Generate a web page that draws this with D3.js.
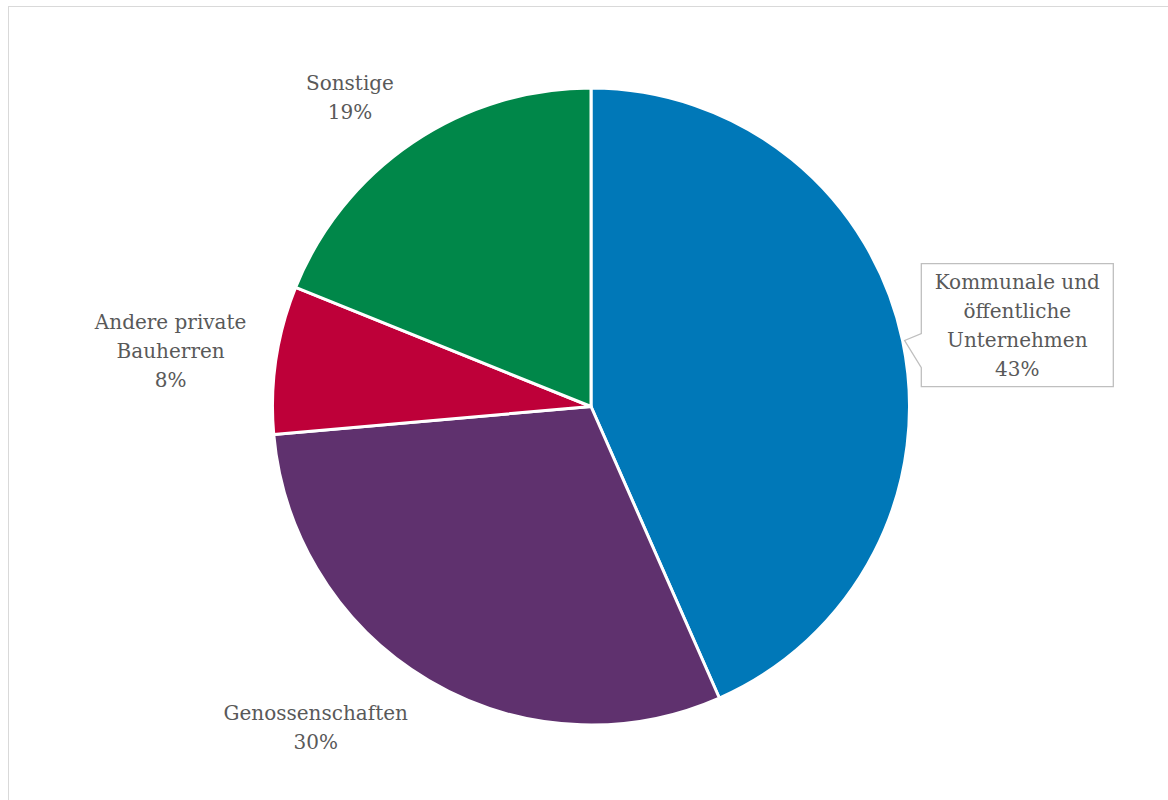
<!DOCTYPE html>
<html lang="de">
<head>
    <meta charset="UTF-8">
    <title>Bauherren</title>
    <script src="https://cdn.jsdelivr.net/npm/d3@7"></script>
    <style>
        body { margin: 0; background: #fff; }
        .label { font-family: "DejaVu Serif", serif; font-size: 20px; fill: #595959; }
    </style>
</head>
<body>
    <div id="chart"></div>

    <script>
        // Daten (Anteile in %, im Uhrzeigersinn ab 12 Uhr)
        const categories = ['Kommunale und öffentliche Unternehmen', 'Genossenschaften', 'Andere private Bauherren', 'Sonstige'];
        const values = [43.4, 30.2, 7.5, 18.9];
        const valueLabels = ['43%', '30%', '8%', '19%'];
        const labelLines = [
            ['Kommunale und', 'öffentliche', 'Unternehmen'],
            ['Genossenschaften'],
            ['Andere private', 'Bauherren'],
            ['Sonstige']
        ];
        const colors = ['#0078b8', '#5f316e', '#be0039', '#008749'];

        const width = 1168, height = 800;
        const cx = 591, cy = 406.5, radius = 318.5;
        const lineHeight = 29;

        // Lage der Beschriftungen: Winkel (Grad, ab 12 Uhr) und Abstand vom Mittelpunkt
        const labelLayout = [
            { angle: 79.2, dist: 434, callout: true },
            { angle: 220.6, dist: 423 },
            { angle: 277.5, dist: 424 },
            { angle: 322, dist: 391.5 }
        ];

        const svg = d3.select('#chart').append('svg')
            .attr('width', width)
            .attr('height', height);

        // Rahmen des Diagrammbereichs
        svg.append('rect')
            .attr('x', 8.5).attr('y', 6.5)
            .attr('width', width + 20).attr('height', height + 20)
            .attr('fill', 'none')
            .attr('stroke', '#d9d9d9')
            .attr('stroke-width', 1);

        const pie = d3.pie().sort(null).value(d => d);
        const arcs = pie(values);
        const arc = d3.arc().innerRadius(0).outerRadius(radius);

        const g = svg.append('g').attr('transform', `translate(${cx},${cy})`);

        g.selectAll('path')
            .data(arcs)
            .enter().append('path')
            .attr('d', arc)
            .attr('fill', (d, i) => colors[i])
            .attr('stroke', '#fff')
            .attr('stroke-width', 3)
            .attr('stroke-linejoin', 'round');

        // Beschriftungen
        const labels = g.selectAll('g.lbl')
            .data(arcs)
            .enter().append('g')
            .attr('class', 'lbl')
            .attr('transform', (d, i) => {
                const a = labelLayout[i].angle * Math.PI / 180;
                const r = labelLayout[i].dist;
                return `translate(${r * Math.sin(a)},${-r * Math.cos(a)})`;
            });

        labels.each(function(d, i) {
            const lines = labelLines[i].concat([valueLabels[i]]);
            const sel = d3.select(this);
            const top = -(lines.length - 1) * lineHeight / 2;

            if (labelLayout[i].callout) {
                // Sprechblase mit Zeiger zum Segment
                const bw = 192, bh = 123;
                const x0 = -bw / 2, y0 = -bh / 2;
                const mid = (d.startAngle + d.endAngle) / 2;
                const tipR = radius + 2;
                const a = labelLayout[i].angle * Math.PI / 180;
                const ox = labelLayout[i].dist * Math.sin(a), oy = -labelLayout[i].dist * Math.cos(a);
                const tx = tipR * Math.sin(mid) - ox, ty = -tipR * Math.cos(mid) - oy;
                const p1 = 70, p2 = 104;
                const path = d3.path();
                path.moveTo(x0, y0);
                path.lineTo(x0 + bw, y0);
                path.lineTo(x0 + bw, y0 + bh);
                path.lineTo(x0, y0 + bh);
                path.lineTo(x0, y0 + p2);
                path.lineTo(tx, ty);
                path.lineTo(x0, y0 + p1);
                path.closePath();
                sel.append('path')
                    .attr('d', path.toString())
                    .attr('fill', '#fff')
                    .attr('stroke', '#bfbfbf')
                    .attr('stroke-width', 1.3);
            }

            sel.selectAll('text')
                .data(lines)
                .enter().append('text')
                .attr('class', 'label')
                .attr('text-anchor', 'middle')
                .attr('dominant-baseline', 'central')
                .attr('y', (t, k) => top + k * lineHeight)
                .text(t => t);
        });
    </script>
</body>
</html>
